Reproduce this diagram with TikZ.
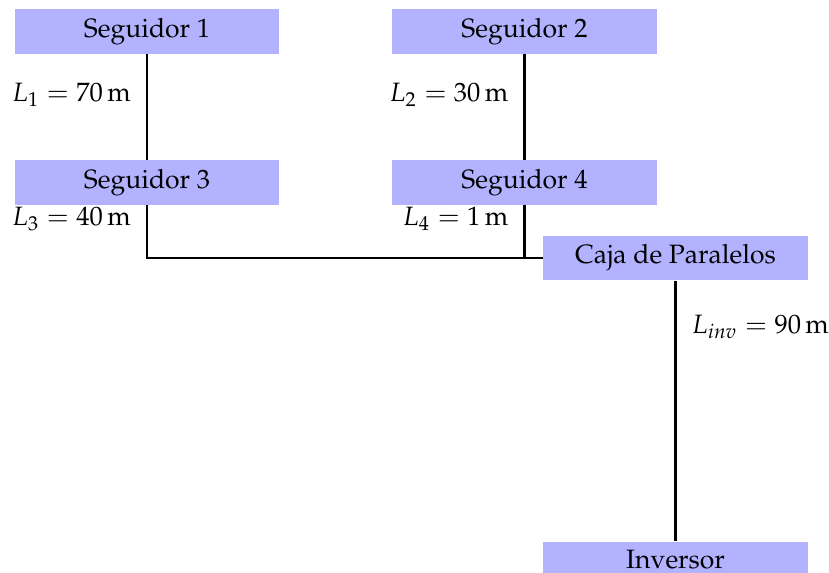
\documentclass[tikz,border=0pt]{standalone}
\usepackage[T1]{fontenc}
\usepackage{mathpazo}
\usepackage{tikz}
\usetikzlibrary{positioning,calc}

\begin{document}
\begin{tikzpicture}[
  bloque/.style={fill=blue!30,minimum width=3.5cm},
  cable/.style={thick}]
\useasboundingbox (-1.947,0.417) rectangle (9.033,-7.172);
% seguidores
\node[bloque] (seg1) at (0,0) {Seguidor 1};
\node[bloque] (seg2) at (5,0) {Seguidor 2};
\node[bloque] (seg3) at (0,-2) {Seguidor 3};
\node[bloque] (seg4) at (5,-2) {Seguidor 4};
\node[bloque] (caja) at (7,-3) {Caja de Paralelos};
\node[bloque] (inv) at (7,-7) {Inversor};
% cables
\coordinate (union3) at (seg3.south |- caja.west);
\coordinate (union4) at (seg4.south |- caja.west);
\draw[cable] (seg1) -- (seg3);
\draw[cable] (seg2) -- (seg4);
\draw[cable] (seg3) -- (union3) -- (caja.west);
\draw[cable] (seg4) -- (union4);
\draw[cable] (caja) -- (inv);
% longitudes
\node[anchor=east] (l1) at (-0.09,-0.84) {$L_1 = 70\,\mathrm{m}$};
\node[anchor=east] (l2) at (4.91,-0.84) {$L_2 = 30\,\mathrm{m}$};
\node[anchor=east] (l3) at (-0.09,-2.48) {$L_3 = 40\,\mathrm{m}$};
\node[anchor=east] (l4) at (4.91,-2.48) {$L_4 = 1\,\mathrm{m}$};
\node[anchor=west] (linv) at (7.09,-3.91) {$L_{inv} = 90\,\mathrm{m}$};
\end{tikzpicture}
\end{document}
